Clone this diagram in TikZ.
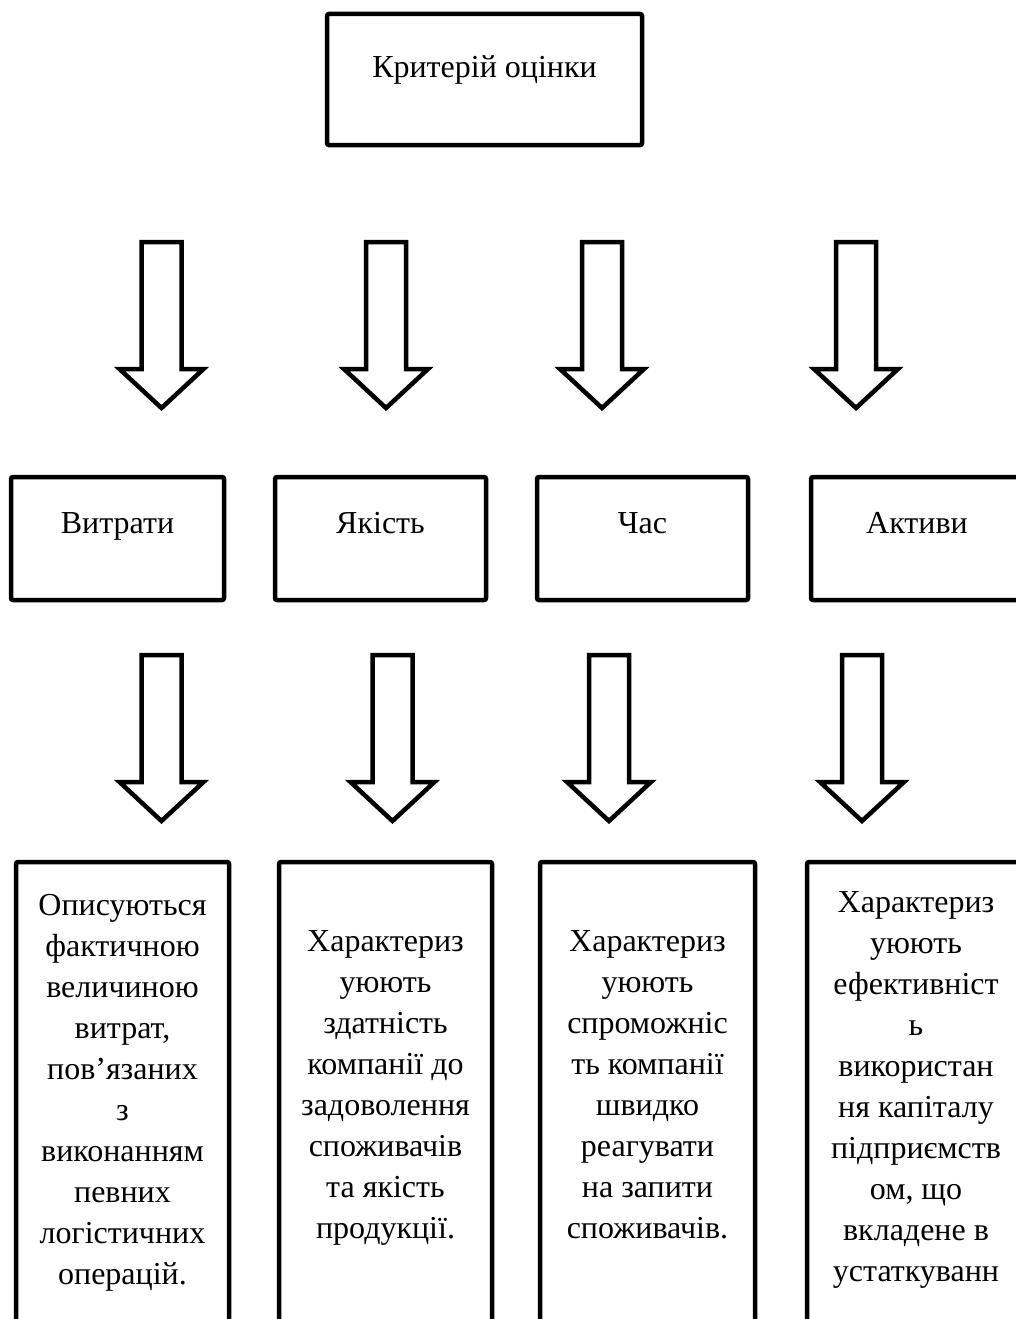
\documentclass[tikz,border=0pt]{standalone}
\usepackage{fontspec}
\setmainfont{Liberation Serif}

\tikzset{
	frame/.style={draw, line width=4.5pt, rounded corners=2pt, inner sep=0pt,
		anchor=base, font=\fontsize{32}{41}\selectfont},
	blockarrow/.style={draw, line width=4.5pt, line join=miter, fill=white},
}

\begin{document}
\begin{tikzpicture}[x=1pt, y=-1pt]
			\useasboundingbox (0,0) rectangle (1016,1319);
			
			% top
			\node[frame, minimum width=315pt, text height=64pt, text depth=67pt]
				(crit) at (484.5,78) {Критерій оцінки};
			
			\draw[blockarrow] (141.5,242) -- ++(40,0) -- ++(0,127) -- ++(22,0) -- ++(-42,39) -- ++(-42,-39) -- ++(22,0) -- cycle;
			\draw[blockarrow] (366,242) -- ++(40,0) -- ++(0,127) -- ++(22,0) -- ++(-42,39) -- ++(-42,-39) -- ++(22,0) -- cycle;
			\draw[blockarrow] (582,242) -- ++(40,0) -- ++(0,127) -- ++(22,0) -- ++(-42,39) -- ++(-42,-39) -- ++(22,0) -- cycle;
			\draw[blockarrow] (836,242) -- ++(40,0) -- ++(0,127) -- ++(22,0) -- ++(-42,39) -- ++(-42,-39) -- ++(22,0) -- cycle;
			
			% criteria
			\node[frame, minimum width=213pt, text height=56pt, text depth=67pt]
				(cost) at (117.5,533) {Витрати};
			\node[frame, minimum width=211pt, text height=56pt, text depth=67pt]
				(qual) at (380.5,533) {Якість};
			\node[frame, minimum width=211pt, text height=56pt, text depth=67pt]
				(time) at (642.5,533) {Час};
			\node[frame, minimum width=212pt, text height=56pt, text depth=67pt]
				(asset) at (917,533) {Активи};
			
			\draw[blockarrow] (141.5,655) -- ++(40,0) -- ++(0,127) -- ++(22,0) -- ++(-42,39) -- ++(-42,-39) -- ++(22,0) -- cycle;
			\draw[blockarrow] (372.5,655) -- ++(40,0) -- ++(0,127) -- ++(22,0) -- ++(-42,39) -- ++(-42,-39) -- ++(22,0) -- cycle;
			\draw[blockarrow] (589,655) -- ++(40,0) -- ++(0,127) -- ++(22,0) -- ++(-42,39) -- ++(-42,-39) -- ++(22,0) -- cycle;
			\draw[blockarrow] (842,655) -- ++(40,0) -- ++(0,127) -- ++(22,0) -- ++(-42,39) -- ++(-42,-39) -- ++(22,0) -- cycle;
			
			% descriptions
			\node[frame, minimum width=213pt, text height=53pt, text depth=600pt]
				(costtxt) at (122.5,915) {\parbox[t]{213pt}{\centering
					Описуються\\фактичною\\величиною\\витрат,\\пов’язаних\\з\\виконанням\\певних\\логістичних\\операцій.}};
			\node[frame, minimum width=213pt, text height=89pt, text depth=600pt]
				(qualtxt) at (385.5,951) {\parbox[t]{213pt}{\centering
					Характериз\\уюють\\здатність\\компанії до\\задоволення\\споживачів\\та якість\\продукції.}};
			\node[frame, minimum width=215pt, text height=89pt, text depth=600pt]
				(timetxt) at (647.5,951) {\parbox[t]{215pt}{\centering
					Характериз\\уюють\\спроможніс\\ть компанії\\швидко\\реагувати\\на запити\\споживачів.}};
			\node[frame, minimum width=218pt, text height=50pt, text depth=600pt]
				(assettxt) at (916,912) {\parbox[t]{218pt}{\centering
					Характериз\\уюють\\ефективніст\\ь\\використан\\ня капіталу\\підприємств\\ом, що\\вкладене в\\устаткуванн}};
		\end{tikzpicture}
\end{document}
